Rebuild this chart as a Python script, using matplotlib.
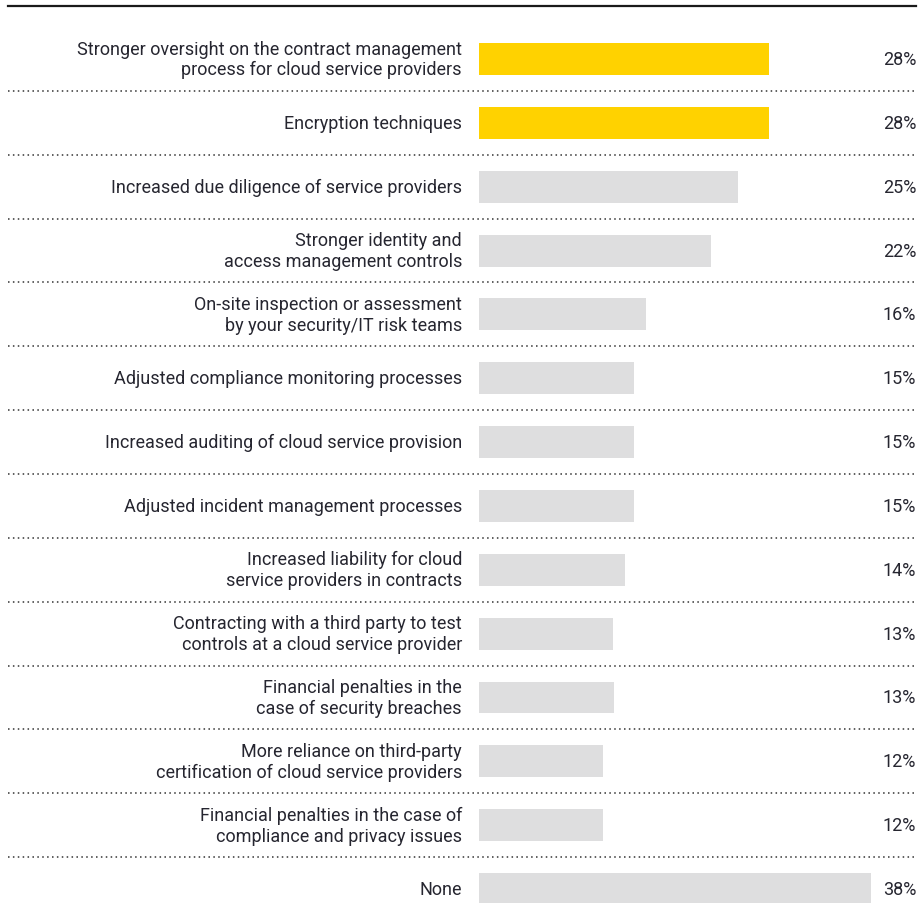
import matplotlib.pyplot as plt
from matplotlib.lines import Line2D

# data
labels = [
    "Stronger oversight on the contract management\nprocess for cloud service providers",
    "Encryption techniques",
    "Increased due diligence of service providers",
    "Stronger identity and\naccess management controls",
    "On-site inspection or assessment\nby your security/IT risk teams",
    "Adjusted compliance monitoring processes",
    "Increased auditing of cloud service provision",
    "Adjusted incident management processes",
    "Increased liability for cloud\nservice providers in contracts",
    "Contracting with a third party to test\ncontrols at a cloud service provider",
    "Financial penalties in the\ncase of security breaches",
    "More reliance on third-party\ncertification of cloud service providers",
    "Financial penalties in the case of\ncompliance and privacy issues",
    "None",
]
values = [28.0, 28.0, 25.0, 22.4, 16.1, 15.0, 15.0, 15.0, 14.1, 12.9, 13.0, 12.0, 12.0, 37.8]
pct_labels = ["28%", "28%", "25%", "22%", "16%", "15%", "15%", "15%", "14%", "13%", "13%", "12%", "12%", "38%"]
highlight = [True, True] + [False] * 12

yellow = "#FFD200"
grey = "#DEDEDF"
text_col = "#262630"

plt.rcParams['font.family'] = ['Roboto', 'DejaVu Sans']

fig = plt.figure(figsize=(9.19, 9.04), dpi=100)
# bars region: starts at 479 px, ends at 916 px
ax = fig.add_axes([479 / 919, 0, (916 - 479) / 919, 1])
row_px = 63.85
ax.set_ylim((904 - 60) / row_px, -60 / row_px)
ax.set_xlim(0, (916 - 479) / 10.36)
ax.axis('off')

for i, (lab, v, p, h) in enumerate(zip(labels, values, pct_labels, highlight)):
    ax.barh(i, v, height=0.5, color=yellow if h else grey, clip_on=False)
    ax.text(-17 / 10.36, i, lab, ha='right', va='center', fontsize=13,
            color=text_col, linespacing=1.2)
    ax.text(1.0, i, p, transform=ax.get_yaxis_transform(), ha='right',
            va='center', fontsize=13, color=text_col)

# dotted separators between rows
for i in range(len(labels) - 1):
    yf = 1 - (60 + row_px * (i + 0.5)) / 904
    fig.add_artist(Line2D([8 / 919, 916 / 919], [yf, yf], transform=fig.transFigure,
                          color="#333333", lw=1.1, linestyle=(0, (1, 2.2))))

# solid top rule
fig.add_artist(Line2D([8 / 919, 916 / 919], [1 - 7 / 904] * 2, transform=fig.transFigure,
                      color="#1a1a1a", lw=1.6))

fig.savefig("out.png", dpi=100)
